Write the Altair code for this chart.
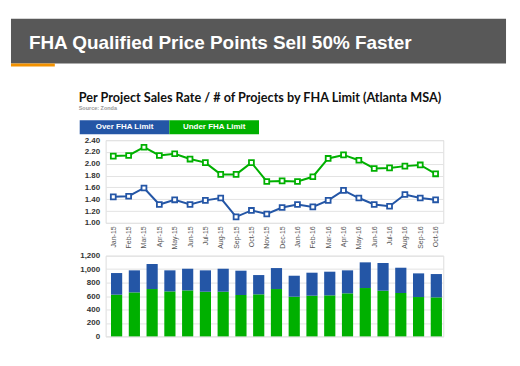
import altair as alt
import pandas as pd

# ---------------- data ----------------
months = ["Jan-15", "Feb-15", "Mar-15", "Apr-15", "May-15", "Jun-15", "Jul-15",
          "Aug-15", "Sep-15", "Oct-15", "Nov-15", "Dec-15", "Jan-16", "Feb-16",
          "Mar-16", "Apr-16", "May-16", "Jun-16", "Jul-16", "Aug-16", "Sep-16", "Oct-16"]
over_rate = [1.44, 1.45, 1.59, 1.31, 1.39, 1.31, 1.38, 1.42, 1.10, 1.21, 1.15,
             1.26, 1.31, 1.27, 1.38, 1.55, 1.42, 1.31, 1.28, 1.48, 1.42, 1.39]
under_rate = [2.13, 2.14, 2.28, 2.14, 2.17, 2.08, 2.02, 1.82, 1.82, 2.02, 1.70,
              1.71, 1.70, 1.78, 2.09, 2.15, 2.06, 1.92, 1.93, 1.96, 1.98, 1.83]

bar_ids = list(range(1, 20))
under_projects = [620, 654, 704, 669, 684, 664, 664, 615, 625, 704, 590,
                  605, 610, 640, 719, 679, 645, 585, 580]
over_projects = [322, 328, 372, 313, 322, 318, 342, 362, 287, 312, 312,
                 342, 352, 342, 382, 412, 376, 352, 347]

series = ["Over FHA Limit", "Under FHA Limit"]
rate_ticks = [1.0, 1.2, 1.4, 1.6, 1.8, 2.0, 2.2, 2.4]
count_ticks = [0, 200, 400, 600, 800, 1000, 1200]

title_text = "FHA Qualified Price Points Sell 50% Faster"
subtitle_text = "Per Project Sales Rate / # of Projects by FHA Limit (Atlanta MSA)"
source_text = "Source: Zonda"

BLUE = "#2456a6"
GREEN = "#00b000"
HEADER = "#585858"
ORANGE = "#f39200"

# ---------------- tables ----------------
rates = pd.DataFrame(
    [{"month": m, "series": series[0], "rate": v} for m, v in zip(months, over_rate)]
    + [{"month": m, "series": series[1], "rate": v} for m, v in zip(months, under_rate)]
)
counts = pd.DataFrame(
    [{"bar": b, "series": series[1], "rank": 0, "n": v} for b, v in zip(bar_ids, under_projects)]
    + [{"bar": b, "series": series[0], "rank": 1, "n": v} for b, v in zip(bar_ids, over_projects)]
)
one = pd.DataFrame({"k": [0]})

color = alt.Color("series:N", scale=alt.Scale(domain=series, range=[BLUE, GREEN]), legend=None)

W = 339
H_TOP = 83
H_BOT = 81

# ---------------- top panel ----------------
xm = alt.X("month:N", sort=months, title=None,
           axis=alt.Axis(labelAngle=-90, labelFontSize=7, labelColor="#555555",
                         labelFont="Liberation Sans", tickSize=0, domain=False,
                         labelPadding=3, grid=False))
yr = alt.Y("rate:Q", title=None,
           scale=alt.Scale(domain=[1.0, 2.4], nice=False, zero=False),
           axis=alt.Axis(values=rate_ticks, format=".2f", labelFontSize=8,
                         labelFontWeight="bold", labelColor="#333333",
                         labelFont="Liberation Sans", tickSize=0, domain=False,
                         labelPadding=6, gridColor="#e3e3e3"))

lines = alt.Chart(rates).mark_line(strokeWidth=2).encode(x=xm, y=yr, color=color, detail="series:N")
points = alt.Chart(rates).mark_point(shape="square", filled=False, fill="white",
                                     size=24, strokeWidth=1.8, opacity=1).encode(
    x=xm, y=yr, stroke=alt.Stroke("series:N", scale=alt.Scale(domain=series, range=[BLUE, GREEN]), legend=None))

# decorations (positions relative to top plot origin)
header = alt.Chart(one).mark_rect(color=HEADER).encode(
    x=alt.value(-95), x2=alt.value(402), y=alt.value(-122), y2=alt.value(-77))
accent = alt.Chart(one).mark_rect(color=ORANGE).encode(
    x=alt.value(-95), x2=alt.value(-51), y=alt.value(-77), y2=alt.value(-74))
title = alt.Chart(one).mark_text(text=title_text, color="white", font="Liberation Sans",
                                 fontWeight="bold", fontSize=19, align="left",
                                 baseline="alphabetic").encode(
    x=alt.value(-77), y=alt.value(-92))
subtitle = alt.Chart(one).mark_text(text=subtitle_text, color="#111111", font="Lato",
                                    fontWeight="bold", fontSize=12.7, align="left",
                                    baseline="alphabetic").encode(
    x=alt.value(-27), y=alt.value(-38))
source = alt.Chart(one).mark_text(text=source_text, color="#999999", font="Liberation Sans",
                                  fontWeight="bold", fontSize=5.5, align="left",
                                  baseline="alphabetic").encode(
    x=alt.value(-27), y=alt.value(-30))
leg_blue = alt.Chart(one).mark_rect(color=BLUE).encode(
    x=alt.value(-26), x2=alt.value(64), y=alt.value(-20), y2=alt.value(-6))
leg_green = alt.Chart(one).mark_rect(color=GREEN).encode(
    x=alt.value(64), x2=alt.value(154), y=alt.value(-20), y2=alt.value(-6))
leg_t1 = alt.Chart(one).mark_text(text=series[0], color="white", font="Liberation Sans",
                                  fontWeight="bold", fontSize=8, align="center",
                                  baseline="middle").encode(x=alt.value(19), y=alt.value(-13))
leg_t2 = alt.Chart(one).mark_text(text=series[1], color="white", font="Liberation Sans",
                                  fontWeight="bold", fontSize=8, align="center",
                                  baseline="middle").encode(x=alt.value(109), y=alt.value(-13))

top = alt.layer(header, accent, title, subtitle, source, leg_blue, leg_green, leg_t1, leg_t2,
                lines, points).properties(width=W, height=H_TOP)

# ---------------- bottom panel ----------------
bars = alt.Chart(counts).mark_bar().encode(
    x=alt.X("bar:O", title=None, axis=None,
            scale=alt.Scale(paddingInner=0.37, paddingOuter=0.19, align=0.8)),
    y=alt.Y("n:Q", stack="zero", title=None,
            scale=alt.Scale(domain=[0, 1200], nice=False),
            axis=alt.Axis(values=count_ticks, format=",.0f", labelFontSize=8,
                          labelFontWeight="bold", labelColor="#333333",
                          labelFont="Liberation Sans", tickSize=0, domain=False,
                          labelPadding=6, gridColor="#e3e3e3")),
    color=color,
    order=alt.Order("rank:Q", sort="ascending"),
).properties(width=W, height=H_BOT)

chart = alt.vconcat(top, bars, spacing=33, bounds="flush").properties(
    padding={"left": 2, "top": 9, "right": 5, "bottom": 5}
).configure_view(stroke=None).configure(background="white")

chart.save("out.html", embed_options={"renderer": "svg", "actions": False})
